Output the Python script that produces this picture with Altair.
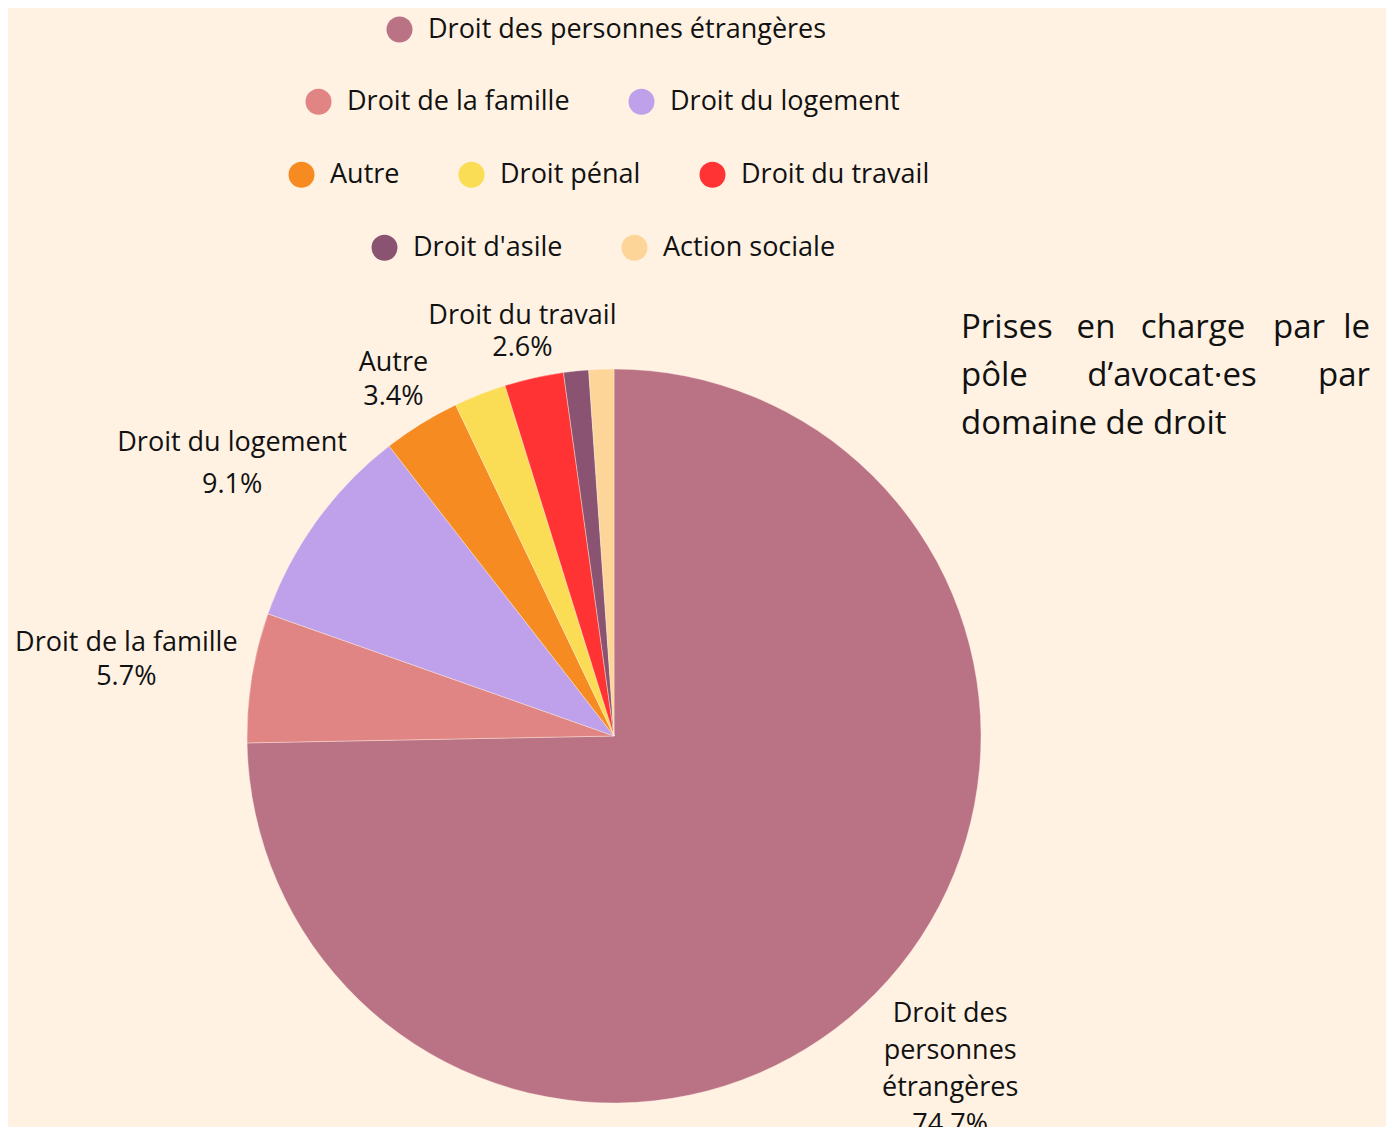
import json
import altair as alt
import pandas as pd

# ---- data ----
categories = [
    "Droit des personnes étrangères",
    "Droit de la famille",
    "Droit du logement",
    "Autre",
    "Droit pénal",
    "Droit du travail",
    "Droit d'asile",
    "Action sociale",
]
values = [74.7, 5.7, 9.1, 3.4, 2.3, 2.6, 1.1, 1.1]
colors = ["#BA7285", "#E08484", "#BFA0EB", "#F68B21", "#FADD55", "#FF3333", "#8A5372", "#FDD598"]
label_names = [
    "Droit des\npersonnes\nétrangères",
    "Droit de la famille",
    "Droit du logement",
    "Autre",
    "Droit pénal",
    "Droit du travail",
    "Droit d'asile",
    "Action sociale",
]
legend_rows = [
    ["Droit des personnes étrangères"],
    ["Droit de la famille", "Droit du logement"],
    ["Autre", "Droit pénal", "Droit du travail"],
    ["Droit d'asile", "Action sociale"],
]
title_lines = ["Prises en charge par le", "pôle d’avocat·es par", "domaine de droit"]

df = pd.DataFrame({
    "category": categories,
    "value": values,
    "idx": list(range(len(categories))),
    "label": [f"{n}\n{v:.1f}%" for n, v in zip(label_names, values)],
})

BG = "#FFF2E3"
INK = "#111111"
FONT = "Open Sans"
CX, CY, R = 606, 728, 367

base = alt.Chart(df)

arcs = base.mark_arc(outerRadius=R, stroke=BG, strokeWidth=0.4).encode(
    x=alt.value(CX),
    y=alt.value(CY),
    theta=alt.Theta("value:Q", stack=True),
    order=alt.Order("idx:Q"),
    color=alt.Color("category:N", scale=alt.Scale(domain=categories, range=colors), legend=None),
)


def label_layer(cat, radius, line_height, dy):
    expr = f"datum.category == {json.dumps(cat, ensure_ascii=False)} ? datum.label : ''"
    return base.transform_calculate(lab=expr).mark_text(
        radius=radius, font=FONT, fontSize=27, color=INK, lineBreak="\n",
        lineHeight=line_height, align="center", baseline="middle", dy=dy,
    ).encode(
        x=alt.value(CX),
        y=alt.value(CY),
        theta=alt.Theta("value:Q", stack=True),
        order=alt.Order("idx:Q"),
        text=alt.Text("lab:N"),
    )


label_layers = [
    label_layer("Droit du travail", 420, 32, -10),
    label_layer("Autre", 420, 34, -16),
    label_layer("Droit du logement", 471, 42, -17),
    label_layer("Droit des personnes étrangères", 471, 37, -52),
    label_layer("Droit de la famille", 494, 34, -14),
]

legend_pos = [(378, 8), (297, 80), (280, 153), (363, 226)]
legend_layers = []
for row, (lx, ly) in zip(legend_rows, legend_pos):
    sub_colors = [colors[categories.index(c)] for c in row]
    legend_layers.append(
        base.transform_filter(alt.FieldOneOfPredicate(field="category", oneOf=row))
        .mark_circle(opacity=0)
        .encode(
            x=alt.value(0),
            y=alt.value(0),
            color=alt.Color(
                "category:N",
                scale=alt.Scale(domain=row, range=sub_colors),
                legend=alt.Legend(
                    orient="none", legendX=lx, legendY=ly, direction="horizontal",
                    title=None, symbolType="circle", symbolSize=676, symbolOpacity=1,
                    symbolStrokeWidth=0, labelFont=FONT, labelFontSize=27,
                    labelColor=INK, labelOffset=15, columnPadding=58, padding=0,
                    labelLimit=1000,
                ),
            ),
        )
    )


def word(txt, x, y, align):
    return alt.Chart(pd.DataFrame({"t": [txt]})).mark_text(
        align=align, baseline="alphabetic", font=FONT, fontSize=33, color=INK
    ).encode(x=alt.value(x), y=alt.value(y), text="t:N")


w1 = title_lines[0].split(" ")
w2 = title_lines[1].split(" ")
title_layers = [
    word(w1[0], 953, 330, "left"),
    word(w1[1], 1088, 330, "center"),
    word(w1[2], 1185, 330, "center"),
    word(w1[3], 1291, 330, "center"),
    word(w1[4], 1362, 330, "right"),
    word(w2[0], 953, 378, "left"),
    word(w2[1], 1164, 378, "center"),
    word(w2[2], 1362, 378, "right"),
    word(title_lines[2], 953, 426, "left"),
]

chart = (
    alt.layer(arcs, *label_layers, *legend_layers, *title_layers)
    .resolve_scale(color="independent")
    .properties(width=1378, height=1119, background=BG, padding=0, autosize="none")
    .configure_view(stroke=None)
)

chart.save("out.html", embed_options={"renderer": "svg", "actions": False})
